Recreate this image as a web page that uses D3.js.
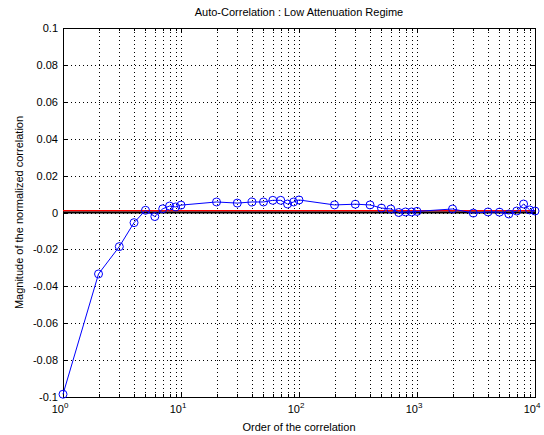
<!DOCTYPE html>
<html>
<head>
<meta charset="utf-8">
<script src="https://cdn.jsdelivr.net/npm/d3@7"></script>
<style>
  body { margin: 0; background: #fff; }
  text { font-family: "Liberation Sans", Arial, sans-serif; fill: #000; }
</style>
</head>
<body>
<svg id="chart"></svg>
<script>
// lag order of the correlation
const orders = [1, 2, 3, 4, 5, 6, 7, 8, 9, 10,
    20, 30, 40, 50, 60, 70, 80, 90, 100,
    200, 300, 400, 500, 600, 700, 800, 900, 1000,
    2000, 3000, 4000, 5000, 6000, 7000, 8000, 9000, 10000];
// normalized correlation magnitude
const corr = [-0.0985, -0.0333, -0.0185, -0.0055, 0.0012, -0.0022, 0.002, 0.0035, 0.003, 0.004,
    0.0057, 0.0051, 0.0057, 0.0057, 0.0066, 0.0066, 0.0046, 0.0057, 0.0068,
    0.0041, 0.0045, 0.0041, 0.0024, 0.0019, 0.0, 0.0003, 0.0003, 0.0006,
    0.0019, -0.0003, 0.0003, 0.0002, -0.0008, 0.0008, 0.0046, 0.0014, 0.0008];
const yTicks = [-0.1, -0.08, -0.06, -0.04, -0.02, 0, 0.02, 0.04, 0.06, 0.08, 0.1];
const yTickLabels = ["-0.1", "-0.08", "-0.06", "-0.04", "-0.02", "0", "0.02", "0.04", "0.06", "0.08", "0.1"];
const xDecades = [0, 1, 2, 3, 4];
const refLevel = 0.001;   // red line
const zeroLevel = 0;      // black line

const width = 544, height = 435;
const margin = {left: 63, right: 9, top: 28, bottom: 38};

let svg = d3.select("#chart")
    .attr("width", width)
    .attr("height", height)
    .attr("viewBox", [0, 0, width, height]);

const x = d3.scaleLog().domain([1, 10000]).range([margin.left, width - margin.right]);
const y = d3.scaleLinear().domain([-0.1, 0.1]).range([height - margin.bottom, margin.top]);

// minor + major x grid (log)
let xGrid = [];
for (let d = 0; d < 4; d++) {
    for (let m = 1; m <= 9; m++) {
        let v = m * Math.pow(10, d);
        if (v > 1) xGrid.push(v);
    }
}

let grid = svg.append("g")
    .attr("stroke", "#000")
    .attr("stroke-width", 1)
    .attr("stroke-dasharray", "1,3");

grid.selectAll("line.xg")
    .data(xGrid)
    .join("line")
    .attr("class", "xg")
    .attr("x1", d => Math.round(x(d)) + 0.5)
    .attr("x2", d => Math.round(x(d)) + 0.5)
    .attr("y1", y(0.1))
    .attr("y2", y(-0.1));

grid.selectAll("line.yg")
    .data(yTicks.slice(1, -1))
    .join("line")
    .attr("class", "yg")
    .attr("x1", x(1))
    .attr("x2", x(10000))
    .attr("y1", d => Math.round(y(d)) + 0.5)
    .attr("y2", d => Math.round(y(d)) + 0.5);

// box
svg.append("rect")
    .attr("x", x(1) + 0.5)
    .attr("y", y(0.1) + 0.5)
    .attr("width", x(10000) - x(1))
    .attr("height", y(-0.1) - y(0.1))
    .attr("fill", "none")
    .attr("stroke", "#000");

// inward ticks
let tg = svg.append("g").attr("stroke", "#000");
yTicks.forEach(v => {
    let py = Math.round(y(v)) + 0.5;
    tg.append("line").attr("x1", x(1)).attr("x2", x(1) + 5).attr("y1", py).attr("y2", py);
    tg.append("line").attr("x1", x(10000) - 5).attr("x2", x(10000)).attr("y1", py).attr("y2", py);
});
xGrid.forEach(v => {
    let px = Math.round(x(v)) + 0.5;
    let len = Number.isInteger(Math.log10(v)) ? 5 : 3;
    tg.append("line").attr("x1", px).attr("x2", px).attr("y1", y(-0.1)).attr("y2", y(-0.1) - len);
    tg.append("line").attr("x1", px).attr("x2", px).attr("y1", y(0.1)).attr("y2", y(0.1) + len);
});

// y tick labels
svg.append("g")
    .selectAll("text")
    .data(yTicks)
    .join("text")
    .attr("x", x(1) - 5)
    .attr("y", d => y(d) + 4)
    .attr("text-anchor", "end")
    .attr("font-size", "11px")
    .text((d, i) => yTickLabels[i]);

// x tick labels: 10^n
let xl = svg.append("g");
xDecades.forEach(n => {
    let t = xl.append("text")
        .attr("x", x(Math.pow(10, n)) - 3)
        .attr("y", y(-0.1) + 16)
        .attr("text-anchor", "middle")
        .attr("font-size", "11px");
    t.append("tspan").text("10");
    t.append("tspan").attr("dy", -5).attr("font-size", "8px").text(n);
});

// reference lines
svg.append("line")
    .attr("x1", x(1)).attr("x2", x(10000))
    .attr("y1", y(refLevel)).attr("y2", y(refLevel))
    .attr("stroke", "#ff0000").attr("stroke-width", 1.5);
svg.append("line")
    .attr("x1", x(1)).attr("x2", x(10000))
    .attr("y1", y(zeroLevel)).attr("y2", y(zeroLevel))
    .attr("stroke", "#000").attr("stroke-width", 2);

// series
const pts = orders.map((o, i) => [o, corr[i]]);
svg.append("path")
    .datum(pts)
    .attr("fill", "none")
    .attr("stroke", "#0000ff")
    .attr("stroke-width", 1)
    .attr("d", d3.line().x(d => x(d[0])).y(d => y(d[1])));

svg.append("g")
    .selectAll("circle")
    .data(pts)
    .join("circle")
    .attr("cx", d => x(d[0]))
    .attr("cy", d => y(d[1]))
    .attr("r", 4)
    .attr("fill", "none")
    .attr("stroke", "#0000ff")
    .attr("stroke-width", 1);

// title and axis labels
svg.append("text")
    .attr("x", (x(1) + x(10000)) / 2)
    .attr("y", 16)
    .attr("text-anchor", "middle")
    .attr("font-size", "11px")
    .text("Auto-Correlation : Low Attenuation Regime");

svg.append("text")
    .attr("x", (x(1) + x(10000)) / 2)
    .attr("y", 431)
    .attr("text-anchor", "middle")
    .attr("font-size", "11px")
    .text("Order of the correlation");

svg.append("text")
    .attr("transform", `translate(23,${(y(0.1) + y(-0.1)) / 2}) rotate(-90)`)
    .attr("text-anchor", "middle")
    .attr("font-size", "11px")
    .text("Magnitude of the normalized correlation");
</script>
</body>
</html>
